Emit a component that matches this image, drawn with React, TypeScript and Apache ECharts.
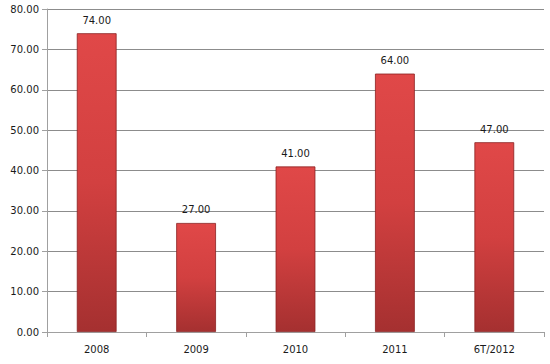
import React, { useEffect, useRef } from "react";
import * as echarts from "echarts";

const categories = ["2008", "2009", "2010", "2011", "6T/2012"];
const values = [74, 27, 41, 64, 47];
const yMin = 0;
const yMax = 80;
const yInterval = 10;

export default function App() {
  const ref = useRef<HTMLDivElement>(null);
  useEffect(() => {
    if (!ref.current) return;
    const chart = echarts.init(ref.current, undefined, { renderer: "svg" });
    chart.setOption({
      animation: false,
      backgroundColor: "#ffffff",
      grid: { left: 47, right: 6, top: 9, bottom: 32, containLabel: false },
      xAxis: {
        type: "category",
        data: categories,
        axisLine: { lineStyle: { color: "#a0a0a0", width: 1 } },
        axisTick: { show: true, alignWithLabel: false, length: 5, lineStyle: { color: "#a0a0a0" } },
        axisLabel: { color: "#1a1a1a", fontFamily: "DejaVu Sans", fontSize: 10, margin: 12 },
      },
      yAxis: {
        type: "value",
        min: yMin,
        max: yMax,
        interval: yInterval,
        axisLine: { show: true, lineStyle: { color: "#a0a0a0", width: 1 } },
        axisTick: { show: true, length: 5, lineStyle: { color: "#a0a0a0" } },
        axisLabel: {
          color: "#1a1a1a",
          fontFamily: "DejaVu Sans",
          fontSize: 10,
          margin: 8,
          formatter: (v: number) => v.toFixed(2),
        },
        splitLine: { show: true, lineStyle: { color: "#8c8c8c", width: 1 } },
      },
      series: [
        {
          type: "bar",
          data: values,
          barWidth: "40%",
          itemStyle: {
            color: new echarts.graphic.LinearGradient(0, 0, 0, 1, [
              { offset: 0, color: "#e04848" },
              { offset: 0.5, color: "#d24040" },
              { offset: 1, color: "#a53030" },
            ]),
            borderColor: "#8a2020",
            borderWidth: 0.8,
          },
          label: {
            show: true,
            position: "top",
            distance: 8,
            color: "#1a1a1a",
            fontFamily: "DejaVu Sans",
            fontSize: 10,
            formatter: (p: any) => Number(p.value).toFixed(2),
          },
        },
      ],
    });
    return () => chart.dispose();
  }, []);
  return <div ref={ref} style={{ width: 550, height: 364, position: "absolute", left: 0, top: 0 }} />;
}
